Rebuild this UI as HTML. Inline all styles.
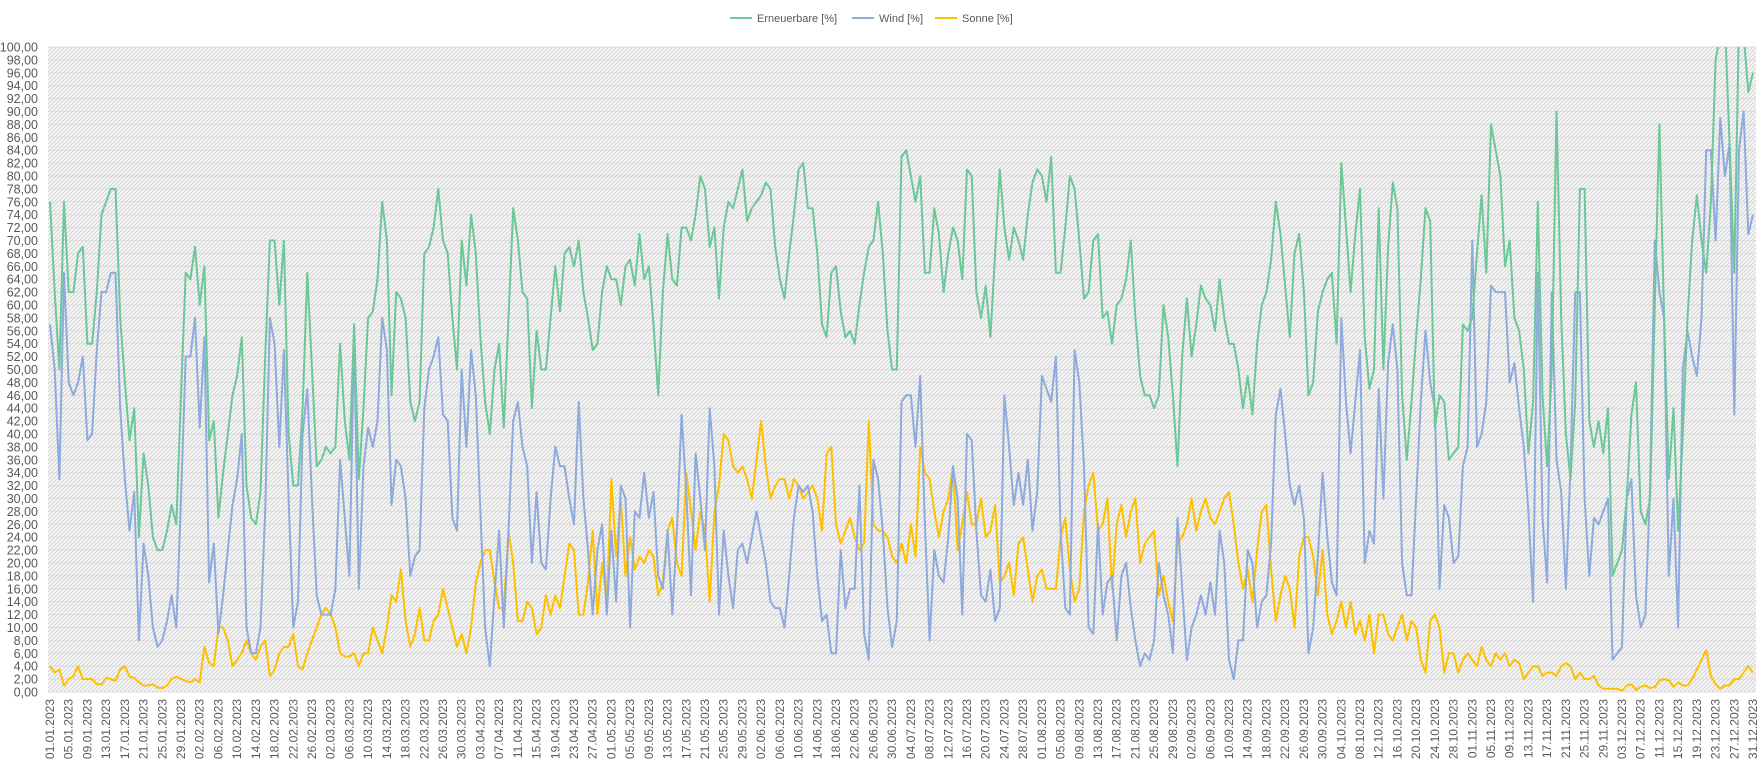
<!DOCTYPE html>
<html><head><meta charset="utf-8">
<style>
html,body{margin:0;padding:0;background:#fff;}
svg{display:block;font-family:"Liberation Sans",sans-serif;}
</style></head>
<body>
<svg id="c" width="1761" height="761" xmlns="http://www.w3.org/2000/svg">
<defs>
<pattern id="h" width="4" height="4" patternUnits="userSpaceOnUse">
<rect width="4" height="4" fill="#f7f7f7"/>
<path d="M-1,1 l2,-2 M0,4 l4,-4 M3,5 l2,-2" stroke="#d4d4d4" stroke-width="1"/>
</pattern>
<clipPath id="cp"><rect x="48" y="47" width="1708" height="646"/></clipPath>
</defs>
<rect x="48" y="47" width="1708" height="645" fill="url(#h)"/>
<g id="grid"></g>
<g id="ylab" font-size="12.5" fill="#595959" text-anchor="end"></g>
<g id="xlab" font-size="12" fill="#595959" text-anchor="end"></g>
<g id="series" clip-path="url(#cp)" fill="none" stroke-width="2" stroke-linejoin="round"></g>
<g font-size="11" fill="#595959">
<line x1="730" y1="18" x2="752" y2="18" stroke="#6cc799" stroke-width="2"/>
<text x="757" y="22">Erneuerbare [%]</text>
<line x1="852" y1="18" x2="874" y2="18" stroke="#8faadc" stroke-width="2"/>
<text x="879" y="22">Wind [%]</text>
<line x1="935" y1="18" x2="957" y2="18" stroke="#ffc000" stroke-width="2"/>
<text x="962" y="22">Sonne [%]</text>
</g>
</svg>
<script>
var G=[76,62,50,76,62,62,68,69,54,54,62,74,76,78,78,58,48,39,44,24,37,32,24,22,22,25,29,26,46,65,64,
69,60,66,39,42,27,34,40,46,49,55,32,27,26,31,52,70,70,60,70,40,32,32,44,65,50,35,36,
38,37,38,54,42,36,57,33,44,58,59,64,76,70,46,62,61,58,45,42,45,68,69,72,78,70,68,58,50,70,63,
74,68,55,45,40,50,54,41,58,75,70,62,61,44,56,50,50,58,66,59,68,69,66,70,62,58,53,54,62,66,
64,64,60,66,67,63,71,64,66,57,46,62,71,64,63,72,72,70,74,80,78,69,72,61,72,76,75,78,81,73,75,
76,77,79,78,69,64,61,68,74,81,82,75,75,68,57,55,65,66,59,55,56,54,60,65,69,70,76,68,56,50,
50,83,84,80,76,80,65,65,75,71,62,68,72,70,64,81,80,62,58,63,55,68,81,72,67,72,70,67,74,79,81,
80,76,83,65,65,72,80,78,70,61,62,70,71,58,59,54,60,61,64,70,58,49,46,46,44,46,60,55,46,35,52,
61,52,57,63,61,60,56,64,58,54,54,50,44,49,43,54,60,62,67,76,71,63,55,68,71,62,46,48,59,62,
64,65,54,82,72,62,71,78,55,47,50,75,50,69,79,75,46,36,45,55,64,75,73,41,46,45,36,37,38,57,56,
58,68,77,65,88,84,80,66,70,58,56,50,37,45,76,46,35,50,90,58,40,33,45,78,78,42,38,42,37,44,
18,20,22,30,43,48,28,26,30,60,88,58,33,44,25,40,58,70,77,70,65,76,98,102,104,85,65,104,102,93,96];
var W=[57,50,33,65,48,46,48,52,39,40,53,62,62,65,65,44,33,25,31,8,23,18,10,7,8,11,15,10,30,52,52,
58,41,55,17,23,9,15,22,29,33,40,10,6,6,10,28,58,54,38,53,30,10,14,40,47,30,15,12,
12,12,16,36,27,18,55,16,35,41,38,42,58,53,29,36,35,30,18,21,22,44,50,52,55,43,42,27,25,50,38,
53,46,28,10,4,15,25,10,25,42,45,38,35,20,31,20,19,30,38,35,35,30,26,45,30,22,12,22,26,12,
25,14,32,30,10,28,27,34,27,31,18,16,25,12,25,43,31,15,37,30,22,44,35,12,25,18,13,22,23,20,24,
28,24,20,14,13,13,10,18,27,32,31,32,28,18,11,12,6,6,22,13,16,16,32,9,5,36,33,25,13,7,
11,45,46,46,38,49,26,8,22,18,17,24,35,30,12,40,39,25,15,14,19,11,13,46,38,29,34,29,36,25,31,
49,47,45,52,25,13,12,53,48,35,10,9,26,12,17,18,8,18,20,13,8,4,6,5,8,20,15,12,6,27,16,
5,10,12,15,12,17,12,25,20,5,2,8,8,22,20,10,14,15,23,43,47,40,32,29,32,27,6,10,21,34,
24,17,15,58,45,37,45,53,20,25,23,47,30,51,57,50,20,15,15,30,45,56,48,44,16,29,27,20,21,35,38,
70,38,40,45,63,62,62,62,48,51,44,38,28,14,65,27,17,62,36,31,16,35,62,62,30,18,27,26,28,30,
5,6,7,30,33,15,10,12,32,70,62,58,18,30,10,50,56,52,49,58,84,84,70,89,80,85,43,84,90,71,74];
var S=[4,3,3.5,1,2,2.5,4,2,2,2,1.2,1.2,2.2,2,1.7,3.5,4,2.4,2.2,1.5,1,1,1.2,0.7,0.6,1,2,2.4,2,1.7,1.5,
2,1.5,7,4.5,4,10,10,8,4,5,6,8,6,5,7,8,2.5,3.5,6,7,7,9,4,3.5,6,8,10,12,
13,12,10,6,5.5,5.5,6,4,6,6,10,8,6,10,15,14,19,11,7,9,13,8,8,11,12,16,13,10,7,9,6,
10,17,20,22,22,17,13,13,25,20,11,11,14,13,9,10,15,12,15,13,18,23,22,12,12,17,25,12,20,14,
33,21,30,18,24,19,21,20,22,21,15,17,25,27,20,18,34,28,22,28,25,14,28,32,40,39,35,34,35,33,30,
36,42,35,30,32,33,33,30,33,32,30,31,32,30,25,37,38,26,23,25,27,24,22,23,42,26,25,25,24,21,
20,23,20,26,21,38,34,33,28,24,28,30,35,22,26,31,26,26,30,24,25,29,17,18,20,15,23,24,19,14,18,
19,16,16,16,24,27,19,14,16,28,32,34,25,26,30,16,26,29,24,28,30,20,23,24,25,15,18,14,11,23,24,
26,30,25,28,30,27,26,28,30,31,26,20,16,19,14,22,28,29,19,11,15,18,16,10,21,24,24,21,15,22,
12,9,11,14,10,14,9,11,8,12,6,12,12,9,8,10,12,8,11,10,5,3,11,12,10,3,6,6,3,5,6,
5,4,7,5,4,6,5,6,4,5,4.5,2,3,4,4,2.5,3,3,2.5,4,4.5,4,2,3,2,2,2.5,1,0.5,0.5,
0.5,0.5,0.2,1,1.2,0.3,0.8,1,0.6,0.8,1.8,2,1.8,0.8,1.5,1,1,2,3.5,5,6.5,2.5,1.2,0.5,1,1,2,2,3,4,3];
var NS="http://www.w3.org/2000/svg";
function el(t,a,p,txt){var e=document.createElementNS(NS,t);for(var k in a)e.setAttribute(k,a[k]);if(txt!=null)e.textContent=txt;p.appendChild(e);return e;}
var x0=50,x1=1753,y0=692,y100=47,N=365;
function X(i){return x0+i*(x1-x0)/(N-1);}
function Y(v){return y0-(v/100)*(y0-y100);}
var grid=document.getElementById('grid'),yl=document.getElementById('ylab'),xl=document.getElementById('xlab'),se=document.getElementById('series');
for(var v=0;v<=100;v+=2){var y=Y(v);
 el('line',{x1:48,x2:1756,y1:y,y2:y,stroke:'#dcdcdc','stroke-width':1},grid);
 el('text',{x:38,y:y+4.5},yl,v.toFixed(2).replace('.',','));}
var d=new Date(Date.UTC(2023,0,1));
for(var i=0;i<N;i+=4){var dt=new Date(d.getTime()+i*86400000);
 var s=('0'+dt.getUTCDate()).slice(-2)+'.'+('0'+(dt.getUTCMonth()+1)).slice(-2)+'.2023';
 var xx=X(i)+4;el('text',{x:0,y:0,transform:'translate('+xx+',699) rotate(-90)'},xl,s);}
function line(arr,col){var p='';for(var i=0;i<N;i++){var v=arr[i]!=null?arr[i]:arr[arr.length-1];p+=(i?'L':'M')+X(i).toFixed(1)+','+Y(v).toFixed(1);}
 el('path',{d:p,stroke:col},se);}
line(S,'#ffc000');line(W,'#8faadc');line(G,'#6cc799');
</script>
</body></html>
